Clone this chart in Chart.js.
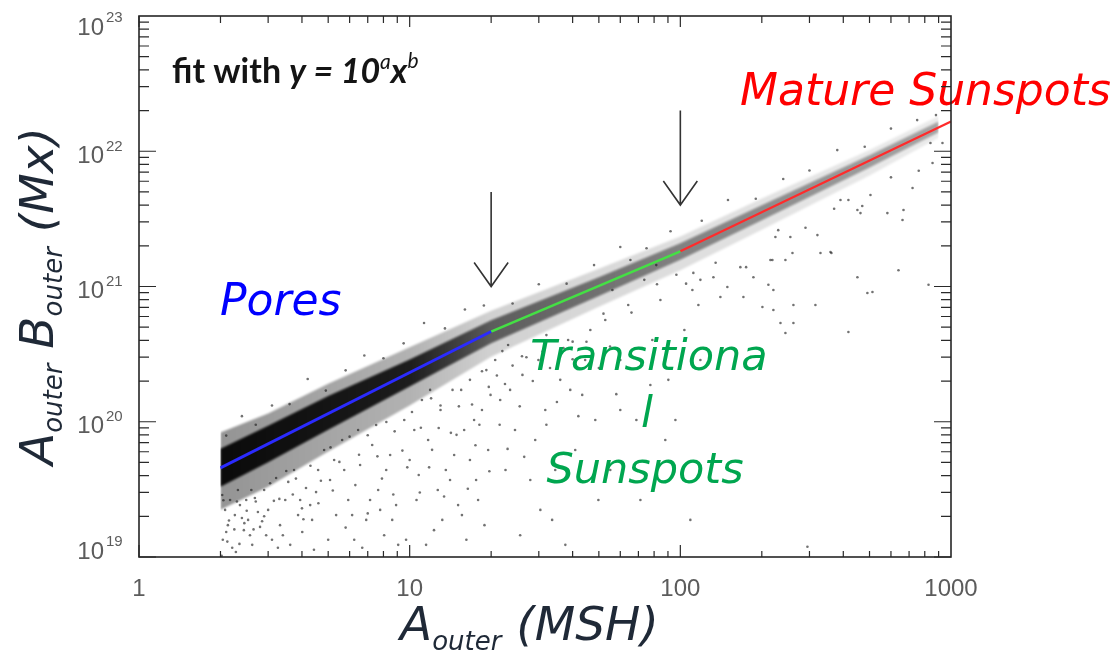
<!DOCTYPE html>
<html>
<head>
<meta charset="utf-8">
<script src="https://cdn.jsdelivr.net/npm/chart.js@4.4.0/dist/chart.umd.min.js"></script>
<style>
  html, body { margin: 0; padding: 0; background: #ffffff; }
  canvas { display: block; }
</style>
</head>
<body>
<canvas id="chart" width="1120" height="650"></canvas>
<script>
// Piecewise power-law fits, y = 10^a x^b
const poresX = [2, 20];
const poresY = [4.56e19, 4.64e20];
const transX = [20, 100];
const transY = [4.64e20, 1.82e21];
const matureX = [100, 1000];
const matureY = [1.82e21, 1.66e22];

// Envelope of the densely populated part of the cloud
const bandX     = [2, 3, 5, 10, 20, 50, 100, 200, 500, 900];
const coreUpper = [6.31e19, 9.33e19, 1.55e20, 2.88e20, 5.62e20, 1.17e21, 2.09e21, 3.98e21, 9.33e21, 1.66e22];
const coreLower = [3.31e19, 5.01e19, 8.71e19, 1.82e20, 3.80e20, 8.51e20, 1.58e21, 3.09e21, 7.59e21, 1.38e22];
const haloUpper = [8.32e19, 1.15e20, 1.91e20, 3.55e20, 6.61e20, 1.35e21, 2.34e21, 4.47e21, 1.02e22, 1.82e22];
const haloLower = [2.24e19, 3.31e19, 6.03e19, 1.32e20, 3.02e20, 7.08e20, 1.32e21, 2.63e21, 6.61e21, 1.26e22];

// Individual features scattered around the main relation [area, flux]
const outliers = [
  [2.03,2.87e19],[2.08,2.23e19],[2.13,1.72e19],[2.04,1.34e19],[2.17,2.64e19],[2.26,2.04e19],[2.21,1.17e19],
  [2.36,2.42e19],[2.44,1.58e19],[2.32,3.13e19],[2.53,1.88e19],[2.62,1.23e19],[2.68,2.73e19],[2.75,2.15e19],
  [2.10,1.53e19],[2.49,2.64e19],[2.57,1.45e19],[2.28,1.09e19],[2.40,1.94e19],[2.80,1.67e19],
  [2.90,3.13e19],[3.00,2.23e19],[3.10,1.34e19],[3.21,3.84e19],[3.32,1.72e19],[3.47,2.64e19],[3.62,1.23e19],
  [3.74,4.40e19],[3.87,2.04e19],[4.01,1.53e19],[4.14,3.24e19],[4.29,2.42e19],[4.43,1.13e19],[4.59,4.40e19],
  [2.95,1.45e19],[3.56,3.59e19],[3.94,2.64e19],[4.36,1.88e19],[3.26,1.17e19],[4.51,3.02e19],
  [4.83,6.18e19],[5.08,3.71e19],[5.35,2.04e19],[5.63,7.33e19],[5.93,2.64e19],[6.24,1.34e19],[6.56,4.79e19],
  [6.91,1.88e19],[7.27,6.73e19],[7.65,3.13e19],[8.05,1.45e19],[8.47,5.68e19],[8.91,2.42e19],[5.00,1.34e19],
  [5.73,4.40e19],[6.45,8.69e19],[7.14,2.64e19],[8.19,4.40e19],[9.07,1.23e19],[6.13,2.04e19],[6.68,1.17e19],
  [7.52,9.46e19],[8.62,1.88e19],[5.26,5.21e19],[7.78,2.23e19],
  [9.55,1.03e20],[10.0,5.21e19],[10.6,2.64e19],[11.1,1.45e20],[11.7,7.33e19],[12.3,1.58e19],[13.0,1.22e20],
  [13.6,4.40e19],[14.4,1.72e20],[15.1,2.42e19],[15.9,8.69e19],[16.7,2.04e20],[17.6,3.71e19],[18.5,1.22e20],
  [19.5,6.18e19],[9.70,1.34e19],[10.8,4.04e19],[11.9,1.72e20],[13.2,1.88e19],[14.6,5.68e19],[16.2,1.34e19],
  [17.9,2.64e19],[19.2,2.41e20],[10.4,8.69e19],[12.7,3.13e19],[15.6,2.04e19],[17.3,1.03e20],[19.9,1.58e20],
  [11.5,1.23e19],[14.1,3.71e19],[16.7,5.21e19],[18.9,1.72e19],
  [20.7,2.86e20],[21.6,1.45e20],[23.1,3.69e20],[24.5,8.69e19],[26.1,2.22e20],[27.9,3.71e19],[29.9,2.86e20],
  [31.7,1.22e20],[33.6,1.88e19],[36.0,2.04e20],[38.5,4.02e20],[40.9,6.18e19],[43.4,1.58e20],[46.5,4.77e20],
  [49.8,2.64e19],[22.6,4.40e19],[25.6,1.45e19],[29.1,7.33e19],[34.5,4.40e19],[39.2,1.72e20],[44.5,2.86e20],
  [48.5,1.03e20],[23.5,1.72e20],[30.4,2.23e19],[37.6,1.23e19],[42.7,3.71e19],
  [52.8,5.65e20],[56.1,9.42e20],[60.0,2.86e20],[64.2,7.30e20],[68.8,1.03e20],[73.6,1.12e21],[78.8,4.02e20],
  [84.4,7.95e20],[90.3,2.04e20],[96.7,1.22e21],[103.5,4.77e20],[110.8,9.42e20],[118.6,2.86e20],[55.1,4.40e19],
  [71.2,2.64e19],[88.0,7.33e19],[108.9,1.88e19],[60.0,1.22e20],[77.5,1.87e20],[95.9,1.03e20],[116.6,7.30e20],
  [65.4,1.57e21],[81.5,1.44e21],
  [111.7,1.26e21],[118.6,1.12e21],[132.5,1.17e21],[149.2,9.91e20],[166.6,1.39e21],[186.2,1.17e21],[215.2,1.57e21],
  [220.7,9.42e20],[140.6,8.36e20],[171,8.36e20],[224.5,2.32e21],[255,2.32e21],[321,2.40e21],[218.8,1.57e21],
  [244.5,1.57e21],[259.6,1.77e21],[329.4,1.77e21],[358.7,1.80e21],[390.6,4.36e21],[417.8,4.36e21],[451,3.68e21],
  [504,4.75e21],[463,3.49e21],[582,3.49e21],[667.6,3.68e21],[721,5.35e21],[662,3.10e21],[451,1.17e21],
  [491,8.95e20],[512.6,9.10e20],[639.7,1.32e21],[826,1.03e21],[220.7,6.70e20],[261.7,7.30e20],[315.6,7.30e20],
  [234.4,5.37e20],[261.7,5.37e20],[244.5,4.53e20],[417.8,4.61e20],[294.8,1.19e19],[854.6,8.19e21],[930,1.15e22],
  [839.6,1.15e22],[211.5,1.03e21],[201,7.06e20],[361.6,1.77e21],
  [2.05,2.63e19],[2.15,1.86e19],[2.3,2.57e19],[2.45,1.78e19],[2.6,3.13e19],[2.7,2.57e19],[2.85,1.84e19],
  [3.05,3.51e19],[3.3,2.69e19],[3.5,4.32e19],[3.8,3.80e19],[4.0,2.29e19],[4.3,4.73e19],[4.7,3.66e19],
  [5.1,6.46e19],[5.5,5.05e19],[6.0,7.76e19],[6.5,5.70e19],[7.0,7.94e19],[7.6,5.55e19],[8.2,9.95e19],
  [8.8,8.49e19],[9.4,6.12e19],[10.2,1.18e20],[11.0,9.04e19],[12.0,1.49e20],[13.0,1.32e20],[14.2,8.28e19],
  [15.5,1.72e20],[17.0,1.34e20],[18.5,2.36e20],[19.6,1.81e20],
  [2.1,7.9e19],[2.4,1.10e20],[2.7,9.5e19],[3.1,1.32e20],[3.6,1.35e20],[4.2,2.07e20],[4.9,1.70e20],
  [5.8,2.40e20],[6.8,3.09e20],[8.0,2.95e20],[9.5,3.80e20],[11.3,5.37e20],[13.5,4.90e20],[16.0,6.76e20],[18.8,7.24e20],
  [24,7.48e20],[30,1.04e21],[38,1.05e21],[48,1.44e21],[60,1.96e21],[75,1.92e21],[92,2.56e21],[120,3.06e21],
  [150,4.36e21],[190,4.45e21],[240,6.24e21],[300,7.21e21],[380,1.02e22],[480,1.08e22],[600,1.47e22],[750,1.70e22],[880,1.85e22],
  [22,3.33e20],[26,3.05e20],[32,4.37e20],[40,3.91e20],[52,6.30e20],[66,6.41e20],[82,1.04e21],[105,1.05e21],
  [135,1.50e21],[175,1.39e21],[230,2.61e21],[290,2.72e21],[370,3.76e21],[470,3.94e21],[600,6.41e21],[760,7.18e21],
  [2.02,1.02e19],[2.12,1.3e19],[2.25,1.6e19],[2.35,1.25e19],[2.5,2.2e19],[2.65,1.6e19],[2.9,2.0e19],[3.15,2.6e19],
  [3.4,1.45e19],[3.7,2.9e19],[4.05,1.9e19],[4.6,2.5e19],[5.2,3.1e19],[5.8,1.65e19],[6.3,3.4e19],[7.0,2.1e19],
  [7.9,3.8e19],[8.7,2.9e19],[9.8,4.6e19],[10.9,3.0e19],[12.1,6.2e19],[13.4,2.8e19],[14.9,8.0e19],[16.4,3.2e19],
  [18.1,9.5e19],[19.7,4.3e19],[12.8,9.0e19],[15.2,1.3e20],[17.5,6.7e19],[11.8,4.6e19],
  [21,2.2e20],[22.5,1.9e20],[24,2.6e20],[25.5,1.3e20],[27,3.0e20],[28.5,2.0e20],[31,3.3e20],[33,2.5e20],
  [35,1.4e20],[37,3.5e20],[40,2.9e20],[42,1.1e20],[45,3.9e20],[50,2.5e20],[55,3.6e20],[58,1.6e20],
  [21.5,9.5e19],[23,6.3e19],[26.5,5.5e19],[32,9.5e19]
];

// Arrows marking the class boundaries (x position, tail, tip)
const arrowX = [20, 100];
const arrowTop = [5.0e21, 2.0e22];
const arrowTip = [1.0e21, 4.0e21];

// Axis tick labels
const xTickValues = [1, 10, 100, 1000];
const xTickLabels = ['1', '10', '100', '1000'];
const yTickExps = [19, 20, 21, 22, 23];

const toPoints = (xs, ys) => xs.map((x, i) => ({ x: x, y: ys[i] }));

function xGradient(chart, stops) {
  const xs = chart.scales.x;
  if (!xs || !chart.chartArea) return 'rgba(0,0,0,0.4)';
  const g = chart.ctx.createLinearGradient(
    xs.getPixelForValue(bandX[0]), 0, xs.getPixelForValue(bandX[bandX.length - 1]), 0);
  stops.forEach(s => g.addColorStop(s[0], s[1]));
  return g;
}
const coreStops = [[0, 'rgba(0,0,0,0.93)'], [0.263, 'rgba(0,0,0,0.84)'], [0.377, 'rgba(0,0,0,0.56)'],
                   [0.64, 'rgba(0,0,0,0.42)'], [1, 'rgba(0,0,0,0.3)']];
const haloStops = [[0, 'rgba(0,0,0,0.42)'], [0.263, 'rgba(0,0,0,0.3)'], [0.377, 'rgba(0,0,0,0.18)'],
                   [0.64, 'rgba(0,0,0,0.13)'], [1, 'rgba(0,0,0,0.08)']];

const NONE = 'rgba(0,0,0,0)';
const edge = (data, order) => ({ data: data, borderColor: NONE, pointRadius: 0, fill: false, order: order });

// Softens the filled density bands
const softBand = {
  id: 'softBand',
  beforeDatasetsDraw(chart) { chart.ctx.save(); chart.ctx.filter = 'blur(1.2px)'; },
  afterDatasetDraw(chart, args) {
    if (chart.data.datasets[args.index].lastSoft) chart.ctx.filter = 'none';
  },
  afterDatasetsDraw(chart) { chart.ctx.restore(); }
};

function drawRuns(ctx, runs, x, y) {
  let cx = x;
  runs.forEach(r => {
    ctx.font = r.font;
    ctx.fillText(r.text, cx, y + (r.dy || 0));
    cx += ctx.measureText(r.text).width + (r.gap || 0);
  });
}

// Frame, inward ticks, labels, titles and annotations
const decorations = {
  id: 'decorations',
  afterDraw(chart) {
    const ctx = chart.ctx;
    const xs = chart.scales.x, ys = chart.scales.y;
    const { left, right, top, bottom } = chart.chartArea;
    ctx.save();

    // annotations
    ctx.textAlign = 'left';
    ctx.textBaseline = 'alphabetic';
    ctx.fillStyle = '#141414';
    drawRuns(ctx, [
      { text: 'fit with ', font: 'bold 34px Lato' },
      { text: 'y = 10', font: 'italic bold 34px Lato' },
      { text: 'a', font: 'italic 21px Lato', dy: -14 },
      { text: 'x', font: 'italic bold 34px Lato' },
      { text: 'b', font: 'italic 21px Lato', dy: -15 }
    ], 172, 83);

    ctx.font = 'italic 44px "DejaVu Sans"';
    ctx.fillStyle = '#0000ff';
    ctx.fillText('Pores', 220, 315);

    ctx.fillStyle = '#ff0000';
    ctx.fillText('Mature Sunspots', 740, 105);

    ctx.font = 'italic 43px "DejaVu Sans"';
    ctx.fillStyle = '#00a64f';
    ctx.textAlign = 'center';
    ctx.fillText('Transitiona', 649, 370);
    ctx.fillText('l', 647, 427);
    ctx.fillText('Sunspots', 645, 483);
    ctx.textAlign = 'left';

    // arrows
    ctx.strokeStyle = '#333333';
    ctx.lineWidth = 1.6;
    arrowX.forEach((v, i) => {
      const px = xs.getPixelForValue(v);
      const y0 = ys.getPixelForValue(arrowTop[i]);
      const y1 = ys.getPixelForValue(arrowTip[i]);
      ctx.beginPath();
      ctx.moveTo(px, y0); ctx.lineTo(px, y1);
      ctx.moveTo(px - 17, y1 - 24); ctx.lineTo(px, y1); ctx.lineTo(px + 17, y1 - 24);
      ctx.stroke();
    });

    // inward ticks on all four sides
    ctx.strokeStyle = '#2a2a2a';
    ctx.lineWidth = 1.2;
    ctx.beginPath();
    [1, 10, 100].forEach(d => {
      for (let k = 1; k <= 9; k++) {
        const px = xs.getPixelForValue(k * d);
        const major = k === 1;
        ctx.moveTo(px, bottom); ctx.lineTo(px, bottom - (major ? 12 : 6));
        ctx.moveTo(px, top); ctx.lineTo(px, top + (major ? 11 : 7));
      }
    });
    for (let e = 19; e <= 22; e++) {
      for (let k = 1; k <= 9; k++) {
        const py = ys.getPixelForValue(k * Math.pow(10, e));
        const major = k === 1;
        ctx.moveTo(left, py); ctx.lineTo(left + (major ? 17 : 10), py);
        ctx.moveTo(right, py); ctx.lineTo(right - (major ? 17 : 10), py);
      }
    }
    ctx.stroke();

    ctx.strokeStyle = '#262626';
    ctx.lineWidth = 1.6;
    ctx.strokeRect(left, top, right - left, bottom - top);

    // tick labels
    ctx.fillStyle = '#5c5c5c';
    ctx.font = '24px "Liberation Sans"';
    ctx.textAlign = 'center';
    xTickValues.forEach((v, i) => {
      ctx.fillText(xTickLabels[i], xs.getPixelForValue(v), 596);
    });
    yTickExps.forEach(e => {
      const py = ys.getPixelForValue(Math.pow(10, e));
      const mid = Math.min(Math.max(py + 3, top + 10), bottom - 7);
      ctx.font = '24px "Liberation Sans"';
      ctx.textAlign = 'right';
      ctx.fillText('10', 104, mid + 8.6);
      ctx.font = '15px "Liberation Sans"';
      ctx.textAlign = 'left';
      ctx.fillText(String(e), 106, mid - 8.6 + 5);
    });

    // axis titles
    ctx.fillStyle = '#1f2937';
    ctx.textAlign = 'left';
    drawRuns(ctx, [
      { text: 'A', font: 'italic 47px "DejaVu Sans"' },
      { text: 'outer', font: 'italic 26px "DejaVu Sans"', dy: 10 },
      { text: ' (MSH)', font: 'italic 47px "DejaVu Sans"' }
    ], 400, 640);

    ctx.save();
    ctx.translate(53, 465);
    ctx.rotate(-Math.PI / 2);
    drawRuns(ctx, [
      { text: 'A', font: 'italic 47px "DejaVu Sans"' },
      { text: 'outer', font: 'italic 26px "DejaVu Sans"', dy: 9 },
      { text: ' B', font: 'italic 47px "DejaVu Sans"' },
      { text: 'outer', font: 'italic 26px "DejaVu Sans"', dy: 9 },
      { text: ' (Mx)', font: 'italic 47px "DejaVu Sans"' }
    ], 0, 0);
    ctx.restore();

    ctx.restore();
  }
};

new Chart(document.getElementById('chart'), {
  type: 'line',
  data: {
    datasets: [
      edge(toPoints(bandX, haloUpper), 6),
      { data: toPoints(bandX, haloLower), borderColor: NONE, pointRadius: 0, order: 5,
        fill: '-1', backgroundColor: c => xGradient(c.chart, haloStops) },
      edge(toPoints(bandX, coreUpper), 4),
      { data: toPoints(bandX, coreLower), borderColor: NONE, pointRadius: 0, order: 3, lastSoft: true,
        fill: '-1', backgroundColor: c => xGradient(c.chart, coreStops) },
      { data: outliers.map(p => ({ x: p[0], y: p[1] })), showLine: false, order: 2,
        pointRadius: 1.3, pointBackgroundColor: 'rgba(20,20,20,0.6)', pointBorderColor: NONE },
      { data: toPoints(poresX, poresY), borderColor: '#2b2bff', borderWidth: 2.8, pointRadius: 0, order: 1 },
      { data: toPoints(transX, transY), borderColor: '#44e044', borderWidth: 2.6, pointRadius: 0, order: 1 },
      { data: toPoints(matureX, matureY), borderColor: '#ff2b2b', borderWidth: 2.2, pointRadius: 0, order: 1 }
    ]
  },
  options: {
    responsive: false,
    animation: false,
    devicePixelRatio: 1,
    layout: { padding: { left: 139, top: 16, right: 169, bottom: 93 } },
    elements: { line: { tension: 0 } },
    scales: {
      x: { type: 'logarithmic', min: 1, max: 1000, display: false },
      y: { type: 'logarithmic', min: 1e19, max: 1e23, display: false }
    },
    plugins: { legend: { display: false }, tooltip: { enabled: false } }
  },
  plugins: [softBand, decorations]
});
</script>
</body>
</html>
